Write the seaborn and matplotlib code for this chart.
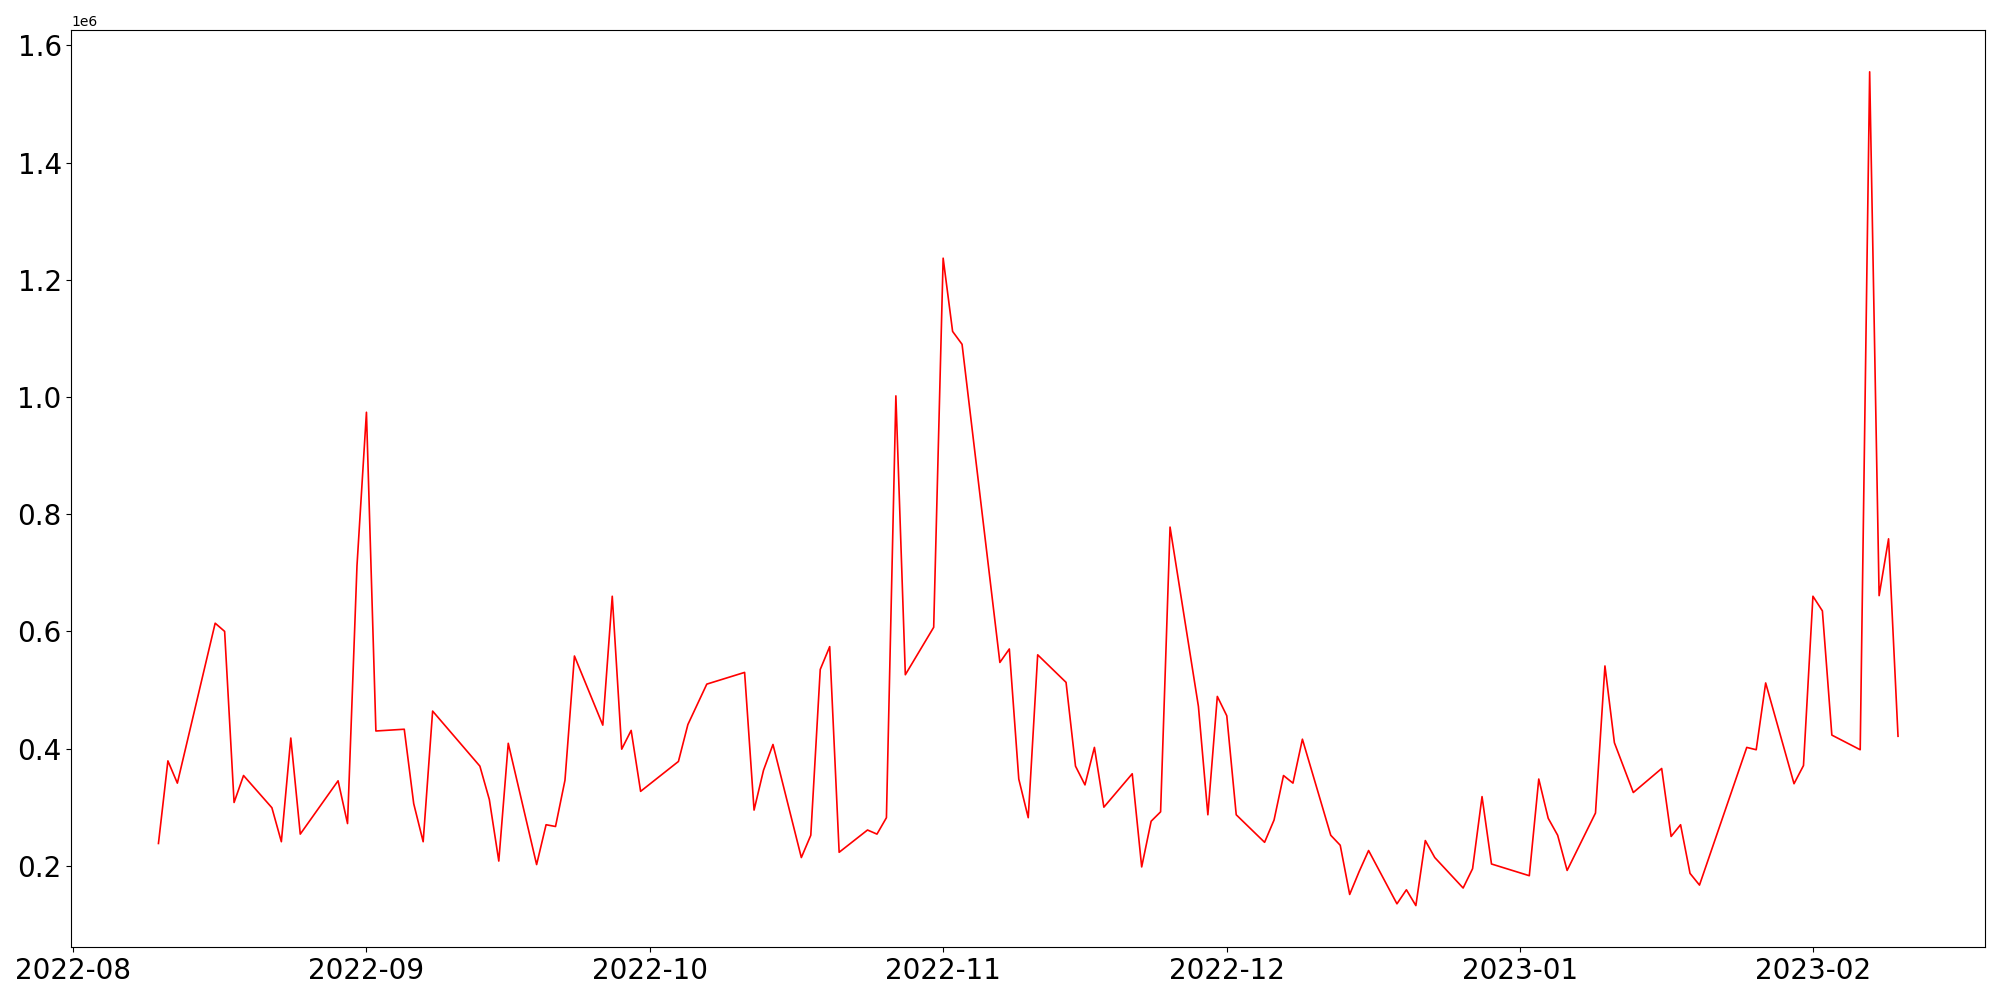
import pandas as pd
import seaborn as sns
import matplotlib
matplotlib.use('Agg')
import matplotlib.pyplot as plt

dates = [
    '2022-08-10', '2022-08-11', '2022-08-12', '2022-08-16', '2022-08-17', '2022-08-18', '2022-08-19',
    '2022-08-22', '2022-08-23', '2022-08-24', '2022-08-25', '2022-08-29', '2022-08-30', '2022-08-31',
    '2022-09-01', '2022-09-02', '2022-09-05', '2022-09-06', '2022-09-07', '2022-09-08', '2022-09-13',
    '2022-09-14', '2022-09-15', '2022-09-16', '2022-09-19', '2022-09-20', '2022-09-21', '2022-09-22',
    '2022-09-23', '2022-09-26', '2022-09-27', '2022-09-28', '2022-09-29', '2022-09-30', '2022-10-04',
    '2022-10-05', '2022-10-07', '2022-10-11', '2022-10-12', '2022-10-13', '2022-10-14', '2022-10-17',
    '2022-10-18', '2022-10-19', '2022-10-20', '2022-10-21', '2022-10-24', '2022-10-25', '2022-10-26',
    '2022-10-27', '2022-10-28', '2022-10-31', '2022-11-01', '2022-11-02', '2022-11-03', '2022-11-07',
    '2022-11-08', '2022-11-09', '2022-11-10', '2022-11-11', '2022-11-14', '2022-11-15', '2022-11-16',
    '2022-11-17', '2022-11-18', '2022-11-21', '2022-11-22', '2022-11-23', '2022-11-24', '2022-11-25',
    '2022-11-28', '2022-11-29', '2022-11-30', '2022-12-01', '2022-12-02', '2022-12-05', '2022-12-06',
    '2022-12-07', '2022-12-08', '2022-12-09', '2022-12-12', '2022-12-13', '2022-12-14', '2022-12-15',
    '2022-12-16', '2022-12-19', '2022-12-20', '2022-12-21', '2022-12-22', '2022-12-23', '2022-12-26',
    '2022-12-27', '2022-12-28', '2022-12-29', '2023-01-02', '2023-01-03', '2023-01-04', '2023-01-05',
    '2023-01-06', '2023-01-09', '2023-01-10', '2023-01-11', '2023-01-13', '2023-01-16', '2023-01-17',
    '2023-01-18', '2023-01-19', '2023-01-20', '2023-01-25', '2023-01-26', '2023-01-27', '2023-01-30',
    '2023-01-31', '2023-02-01', '2023-02-02', '2023-02-03', '2023-02-06', '2023-02-07', '2023-02-08',
    '2023-02-09', '2023-02-10',
]

volume = [
    238000, 379000, 341000, 614000, 600000, 308000, 354000,
    299000, 241000, 418000, 254000, 345000, 272000, 712000,
    974000, 430000, 433000, 306000, 241000, 464000, 370000,
    313000, 208000, 409000, 202000, 270000, 267000, 346000,
    558000, 440000, 660000, 399000, 431000, 327000, 378000,
    441000, 510000, 530000, 295000, 363000, 407000, 214000,
    252000, 535000, 574000, 223000, 261000, 254000, 282000,
    1002000, 526000, 607000, 1237000, 1112000, 1090000, 547000,
    570000, 348000, 282000, 560000, 513000, 370000, 338000,
    402000, 300000, 357000, 198000, 276000, 292000, 778000,
    472000, 287000, 489000, 456000, 287000, 240000, 278000,
    354000, 341000, 416000, 252000, 235000, 151000, 190000,
    226000, 135000, 159000, 132000, 243000, 214000, 162000,
    195000, 318000, 203000, 183000, 348000, 281000, 252000,
    192000, 290000, 541000, 410000, 325000, 366000, 250000,
    270000, 187000, 167000, 402000, 398000, 512000, 340000,
    371000, 660000, 635000, 423000, 398000, 1555000, 661000,
    758000, 421000,
]

df = pd.DataFrame({'date': pd.to_datetime(dates), 'volume': volume})

fig, ax = plt.subplots(figsize=(20, 10), dpi=100)
sns.lineplot(data=df, x='date', y='volume', color='red', linewidth=1.2, ax=ax)
ax.set(xlabel='', ylabel='')
ax.tick_params(axis='both', labelsize=20)

fig.tight_layout()
fig.savefig('out.png', dpi=100)
